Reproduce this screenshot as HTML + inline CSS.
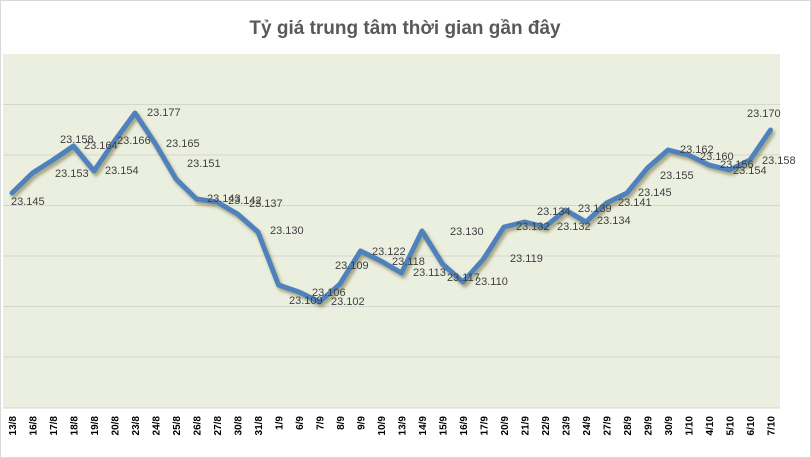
<!DOCTYPE html>
<html><head><meta charset="utf-8"><style>
body{margin:0;background:#fff;}
svg{display:block;font-family:"Liberation Sans",sans-serif;}
</style></head><body>
<svg width="811" height="458" viewBox="0 0 811 458" xmlns="http://www.w3.org/2000/svg">
<defs><filter id="sh" x="-5%" y="-5%" width="110%" height="120%"><feDropShadow dx="2" dy="3" stdDeviation="1.5" flood-color="#6b6330" flood-opacity="0.55"/></filter></defs>
<rect x="0.5" y="0.5" width="810" height="457" fill="#fff" stroke="#d9d9d9"/>
<text x="405" y="34" text-anchor="middle" font-size="19" font-weight="bold" fill="#595959" font-family="'Liberation Sans','DejaVu Sans',sans-serif">Tỷ giá trung tâm thời gian gần đây</text>
<rect x="3" y="54" width="777" height="354" fill="#ebefdf"/>
<g stroke="#d4d6d0" stroke-width="1">
<line x1="3" x2="780" y1="104.5" y2="104.5"/><line x1="3" x2="780" y1="155" y2="155"/><line x1="3" x2="780" y1="205.5" y2="205.5"/><line x1="3" x2="780" y1="256" y2="256"/><line x1="3" x2="780" y1="306.5" y2="306.5"/><line x1="3" x2="780" y1="357" y2="357"/><line x1="3" x2="780" y1="408" y2="408"/>
</g>
<polyline filter="url(#sh)" fill="none" stroke="#4f81bd" stroke-width="5" stroke-linejoin="round" stroke-linecap="round" points="12,193 32.5,173 53,160 73.5,146 94,171 114.5,141 135,113 155.5,144 176,179 196.5,199 217,202 237.5,214 258,232 278.5,285 299,292 319.5,302 340,284 360.5,251 381,261 401.5,273 422,231 442.5,264 463,282 483.5,259 504,227 524.5,222 545,227 565.5,210 586,222 606.5,203 627,193 647.5,168 668,150 688.5,155 709,165 729.5,170 750,160 770.5,130"/>
<g font-size="11" fill="#404040" font-family="'Liberation Sans',sans-serif">
<text x="11" y="205">23.145</text><text x="55" y="177">23.153</text><text x="60" y="143">23.158</text><text x="84" y="149">23.164</text><text x="105" y="174">23.154</text><text x="117" y="144">23.166</text><text x="147" y="116">23.177</text><text x="166" y="147">23.165</text><text x="187" y="167">23.151</text><text x="207" y="202">23.143</text><text x="228" y="204">23.142</text><text x="249" y="207">23.137</text><text x="270" y="234">23.130</text><text x="289" y="304">23.109</text><text x="312" y="296">23.106</text><text x="331" y="305">23.102</text><text x="335" y="269">23.109</text><text x="372" y="255">23.122</text><text x="392" y="265">23.118</text><text x="413" y="276">23.113</text><text x="450" y="235">23.130</text><text x="447" y="281">23.117</text><text x="475" y="285">23.110</text><text x="510" y="262">23.119</text><text x="516" y="230">23.132</text><text x="537" y="215">23.134</text><text x="557" y="230">23.132</text><text x="578" y="212">23.139</text><text x="597" y="224">23.134</text><text x="618" y="206">23.141</text><text x="638" y="196">23.145</text><text x="660" y="179">23.155</text><text x="680" y="153">23.162</text><text x="700" y="160">23.160</text><text x="720" y="168">23.156</text><text x="733" y="174">23.154</text><text x="762" y="164">23.158</text><text x="747" y="117">23.170</text>
</g>
<g font-size="10" font-weight="bold" fill="#000" font-family="'Liberation Sans',sans-serif" text-anchor="end">
<text transform="translate(16,416) rotate(-90)">13/8</text><text transform="translate(36.5,416) rotate(-90)">16/8</text><text transform="translate(57,416) rotate(-90)">17/8</text><text transform="translate(77.5,416) rotate(-90)">18/8</text><text transform="translate(98,416) rotate(-90)">19/8</text><text transform="translate(118.5,416) rotate(-90)">20/8</text><text transform="translate(139,416) rotate(-90)">23/8</text><text transform="translate(159.5,416) rotate(-90)">24/8</text><text transform="translate(180,416) rotate(-90)">25/8</text><text transform="translate(200.5,416) rotate(-90)">26/8</text><text transform="translate(221,416) rotate(-90)">27/8</text><text transform="translate(241.5,416) rotate(-90)">30/8</text><text transform="translate(262,416) rotate(-90)">31/8</text><text transform="translate(282.5,416) rotate(-90)">1/9</text><text transform="translate(303,416) rotate(-90)">6/9</text><text transform="translate(323.5,416) rotate(-90)">7/9</text><text transform="translate(344,416) rotate(-90)">8/9</text><text transform="translate(364.5,416) rotate(-90)">9/9</text><text transform="translate(385,416) rotate(-90)">10/9</text><text transform="translate(405.5,416) rotate(-90)">13/9</text><text transform="translate(426,416) rotate(-90)">14/9</text><text transform="translate(446.5,416) rotate(-90)">15/9</text><text transform="translate(467,416) rotate(-90)">16/9</text><text transform="translate(487.5,416) rotate(-90)">17/9</text><text transform="translate(508,416) rotate(-90)">20/9</text><text transform="translate(528.5,416) rotate(-90)">21/9</text><text transform="translate(549,416) rotate(-90)">22/9</text><text transform="translate(569.5,416) rotate(-90)">23/9</text><text transform="translate(590,416) rotate(-90)">24/9</text><text transform="translate(610.5,416) rotate(-90)">27/9</text><text transform="translate(631,416) rotate(-90)">28/9</text><text transform="translate(651.5,416) rotate(-90)">29/9</text><text transform="translate(672,416) rotate(-90)">30/9</text><text transform="translate(692.5,416) rotate(-90)">1/10</text><text transform="translate(713,416) rotate(-90)">4/10</text><text transform="translate(733.5,416) rotate(-90)">5/10</text><text transform="translate(754,416) rotate(-90)">6/10</text><text transform="translate(774.5,416) rotate(-90)">7/10</text>
</g>
</svg>
</body></html>
